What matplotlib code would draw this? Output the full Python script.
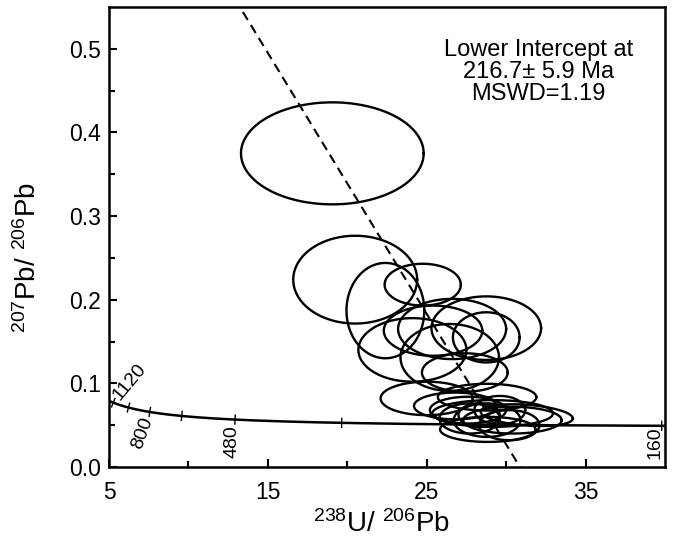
import numpy as np
import matplotlib
matplotlib.use('Agg')
import matplotlib.pyplot as plt

plt.rcParams['font.family'] = ['Liberation Sans', 'DejaVu Sans']
plt.rcParams['mathtext.fontset'] = 'custom'
plt.rcParams['mathtext.rm'] = 'Liberation Sans'
plt.rcParams['mathtext.default'] = 'regular'

# costanti di decadimento (1/anno) e rapporto 238U/235U
LAMBDA_238 = 1.55125e-10
LAMBDA_235 = 9.8485e-10
U_RATIO = 137.88

# ellissi d'errore: centro 238U/206Pb, centro 207Pb/206Pb, semiassi, correlazione
centro_x = [19.06, 20.5, 24.75, 22.4, 24.1, 25.4, 26.6, 26.45, 27.4, 28.75, 28.75,
            25.0, 26.8, 28.8, 28.84, 31.3, 29.15, 27.6, 28.8, 30.4, 28.3, 29.6, 27.7, 30.2]
centro_y = [0.375, 0.224, 0.218, 0.187, 0.140, 0.163, 0.165, 0.131, 0.113, 0.166, 0.155,
            0.082, 0.073, 0.0835, 0.045, 0.062, 0.064, 0.068, 0.056, 0.056, 0.062, 0.068, 0.058, 0.050]
errore_x = [5.75, 3.9, 2.4, 2.45, 3.4, 3.1, 3.4, 3.1, 2.7, 3.45, 2.1,
            2.9, 2.6, 3.1, 3.0, 2.9, 3.8, 2.4, 2.1, 3.1, 1.3, 1.6, 1.9, 1.9]
errore_y = [0.061, 0.0525, 0.025, 0.057, 0.038, 0.030, 0.036, 0.040, 0.023, 0.038, 0.030,
            0.020, 0.016, 0.016, 0.015, 0.013, 0.016, 0.016, 0.020, 0.016, 0.014, 0.017, 0.018, 0.018]
rho = [0.0, 0.0, 0.0, 0.0, 0.0, 0.0, 0.0, 0.0, 0.0, 0.0, 0.0,
       0.0, 0.0, 0.0, 0.0, -0.3, 0.0, 0.0, 0.0, 0.0, 0.0, 0.0, 0.0, 0.0]

# discordia: intercetta inferiore (Ma) e intercetta 207Pb/206Pb del Pb comune
eta_intercetta = 216.7
pb_comune = 0.963

# tacche sulla concordia (Ma) e quelle con etichetta
eta_tacche = [160, 320, 480, 640, 800, 960, 1120]
eta_etichette = [1120, 800, 480, 160]


def concordia_tw(t_ma):
    """Coordinate Tera-Wasserburg per un'eta' in Ma."""
    t = np.asarray(t_ma, dtype=float) * 1e6
    e238 = np.exp(LAMBDA_238 * t) - 1
    e235 = np.exp(LAMBDA_235 * t) - 1
    return 1.0 / e238, e235 / e238 / U_RATIO


fig = plt.figure(figsize=(6.76, 5.45), dpi=100)
ax = fig.add_axes([0.1612, 0.1431, 0.8225, 0.8441])
ax.set_xlim(5, 40)
ax.set_ylim(0, 0.55)

# ellissi
tt = np.linspace(0, 2 * np.pi, 240)
for cx, cy, sx, sy, r in zip(centro_x, centro_y, errore_x, errore_y, rho):
    ex = cx + sx * np.cos(tt)
    ey = cy + sy * (r * np.cos(tt) + np.sqrt(1 - r ** 2) * np.sin(tt))
    ax.plot(ex, ey, color='black', lw=1.7, zorder=3)

# curva di concordia
t_curva = np.linspace(150, 1300, 800)
cx_curva, cy_curva = concordia_tw(t_curva)
ax.plot(cx_curva, cy_curva, color='black', lw=1.8, zorder=2)

# tacche perpendicolari alla curva (in coordinate schermo)
to_disp = ax.transData
to_data = ax.transData.inverted()
for eta in eta_tacche:
    p = np.array(concordia_tw(eta))
    q = np.array(concordia_tw(eta + 5))
    pd_, qd_ = to_disp.transform(p), to_disp.transform(q)
    d = qd_ - pd_
    n = np.array([-d[1], d[0]]) / np.hypot(*d)
    a = to_data.transform(pd_ + 4.5 * n)
    b = to_data.transform(pd_ - 4.5 * n)
    ax.plot([a[0], b[0]], [a[1], b[1]], color='black', lw=1.0, zorder=2)

offset_etichette = {1120: (12, 15), 800: (-5, -15), 480: (-2, -16), 160: (-5, -12.5)}
rot_etichette = {1120: 50, 800: 70, 480: 90, 160: 90}
for eta in eta_etichette:
    px, py = concordia_tw(eta)
    ax.annotate(str(eta), (px, py), xytext=offset_etichette[eta], textcoords='offset points',
                rotation=rot_etichette[eta], ha='center', va='center', fontsize=14)

# discordia tratteggiata
x_inf, y_inf = concordia_tw(eta_intercetta)
pendenza = (y_inf - pb_comune) / x_inf
xd = np.array([0.0, 45.0])
ax.plot(xd, pb_comune + pendenza * xd, color='black', lw=1.5, dashes=(4.5, 2.8), zorder=4)

ax.text(0.772, 0.858, 'Lower Intercept at\n%.1f\u00b1 5.9 Ma\nMSWD=1.19' % eta_intercetta,
        transform=ax.transAxes, ha='center', va='center', fontsize=17, linespacing=1.0)

ax.set_xticks([5, 15, 25, 35])
ax.set_xticks([10, 20, 30], minor=True)
ax.set_yticks([0.0, 0.1, 0.2, 0.3, 0.4, 0.5])
ax.set_yticks([0.05, 0.15, 0.25, 0.35, 0.45], minor=True)
ax.set_yticklabels(['0.0', '0.1', '0.2', '0.3', '0.4', '0.5'])
ax.tick_params(which='both', direction='in', width=1.5, labelsize=16.5)
ax.tick_params(which='major', length=6)
ax.tick_params(which='minor', length=4)
ax.tick_params(axis='x', pad=10)
ax.tick_params(axis='y', pad=6)
for s in ax.spines.values():
    s.set_linewidth(1.8)

fig.text(28 / 676, 1 - 258 / 545, r'$^{207}$Pb/ $^{206}$Pb', rotation=90,
         ha='center', va='center', fontsize=20)
fig.text(382 / 676, 1 - 524 / 545, r'$^{238}$U/ $^{206}$Pb',
         ha='center', va='center', fontsize=20)

fig.savefig('out.png', dpi=100)
